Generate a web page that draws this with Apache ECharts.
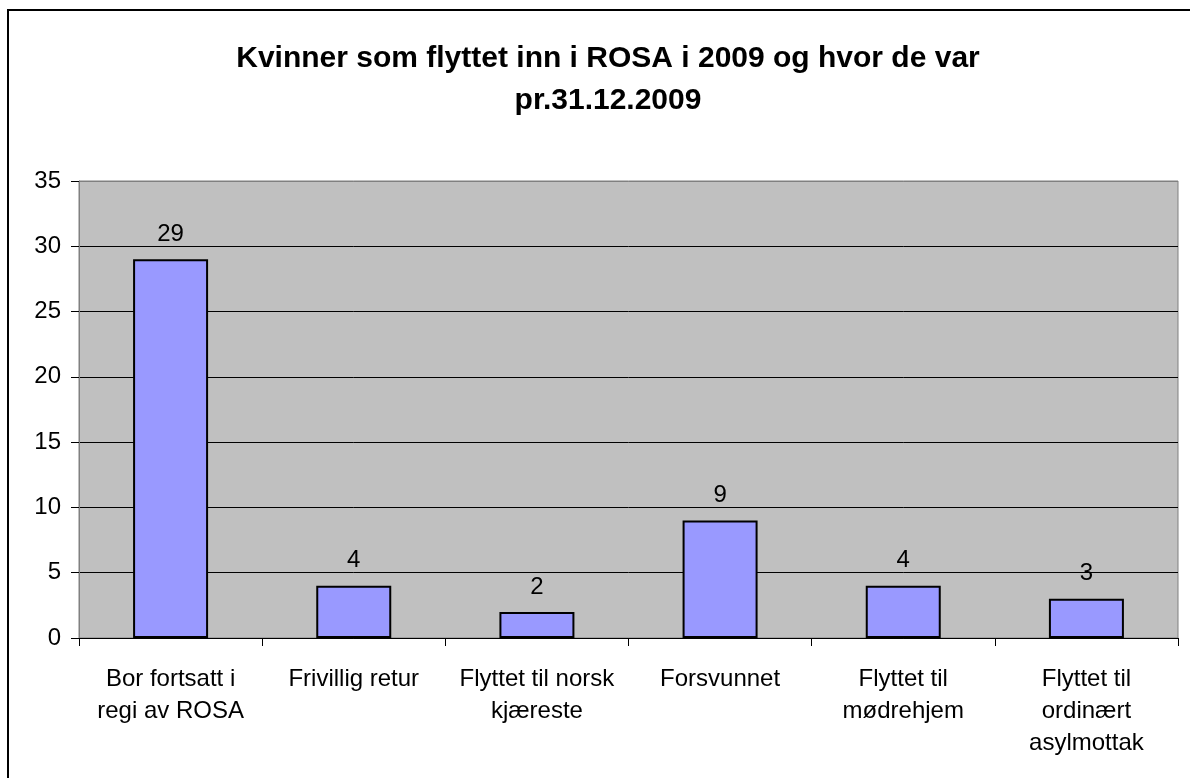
<!DOCTYPE html>
<html>
<head>
<meta charset="utf-8">
<style>
  html, body { margin: 0; padding: 0; overflow: hidden; background: #fff; }
  #frame { position: absolute; left: 7px; top: 9px; width: 1300px; height: 900px; border: 2px solid #000; }
  #chart { position: absolute; left: 0; top: 0; width: 1190px; height: 778px; }
</style>
<script src="https://cdn.jsdelivr.net/npm/echarts@6/dist/echarts.min.js"></script>
</head>
<body>
<div id="frame"></div>
<div id="chart"></div>
<script>
// kategorier og verdier
var categories = [
  "Bor fortsatt i\nregi av ROSA",
  "Frivillig retur",
  "Flyttet til norsk\nkjæreste",
  "Forsvunnet",
  "Flyttet til\nmødrehjem",
  "Flyttet til\nordinært\nasylmottak"
];
var values = [29, 4, 2, 9, 4, 3];

var chart = echarts.init(document.getElementById("chart"));
chart.setOption({
  animation: false,
  textStyle: { fontFamily: "Liberation Sans, Arial, sans-serif" },
  title: {
    text: "Kvinner som flyttet inn i ROSA i 2009 og hvor de var\npr.31.12.2009",
    left: 603,
    textAlign: "center",
    top: 33,
    textStyle: {
      fontSize: 30,
      fontWeight: "bold",
      color: "#000",
      lineHeight: 42,
      fontFamily: "Liberation Sans, Arial, sans-serif"
    }
  },
  grid: {
    left: 79,
    top: 181,
    right: 12,
    bottom: 140,
    show: true,
    backgroundColor: "#C0C0C0",
    borderColor: "#808080",
    borderWidth: 1
  },
  xAxis: {
    type: "category",
    data: categories,
    axisLine: { lineStyle: { color: "#000", width: 1 } },
    axisTick: { show: true, length: 8, lineStyle: { color: "#000" } },
    axisLabel: {
      interval: 0,
      margin: 25,
      fontSize: 24,
      lineHeight: 32,
      color: "#000"
    }
  },
  yAxis: {
    type: "value",
    min: 0,
    max: 35,
    interval: 5,
    axisLine: { show: true, lineStyle: { color: "#808080", width: 1 } },
    axisTick: { show: true, length: 8, lineStyle: { color: "#000" } },
    axisLabel: { fontSize: 24, color: "#000", margin: 18 },
    splitLine: {
      lineStyle: {
        color: ["#000", "#000", "#000", "#000", "#000", "#000", "#000", "#808080"],
        width: 1
      }
    }
  },
  series: [
    {
      type: "bar",
      data: values,
      barWidth: 75,
      itemStyle: { color: "#9999FF", borderColor: "#000", borderWidth: 2 },
      label: {
        show: true,
        position: "top",
        distance: 13,
        fontSize: 24,
        color: "#000"
      }
    }
  ]
});
</script>
</body>
</html>
